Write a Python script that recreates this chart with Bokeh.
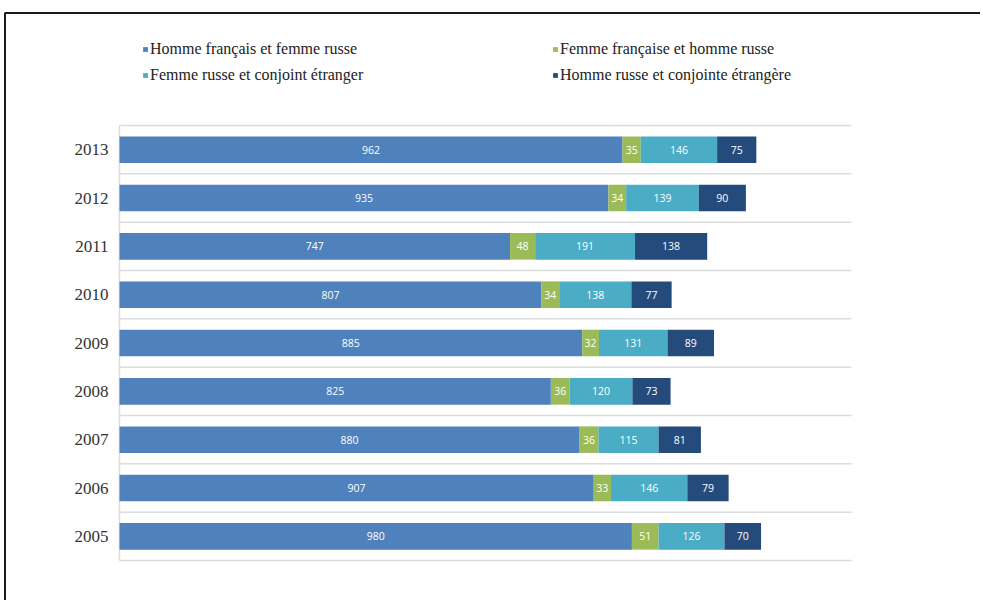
from bokeh.plotting import figure
from bokeh.models import ColumnDataSource, Legend, LegendItem
from bokeh.core.properties import value
from bokeh.embed import file_html
from bokeh.resources import INLINE

years = ["2005", "2006", "2007", "2008", "2009", "2010", "2011", "2012", "2013"]
homme_fr_femme_ru = [980, 907, 880, 825, 885, 807, 747, 935, 962]
femme_fr_homme_ru = [51, 33, 36, 36, 32, 34, 48, 34, 35]
femme_ru_conjoint_etr = [126, 146, 115, 120, 131, 138, 191, 139, 146]
homme_ru_conjointe_etr = [70, 79, 81, 73, 89, 77, 138, 90, 75]

series = [
    ("Homme français et femme russe", homme_fr_femme_ru, "#4F81BD"),
    ("Femme française et homme russe", femme_fr_homme_ru, "#9BBB59"),
    ("Femme russe et conjoint étranger", femme_ru_conjoint_etr, "#4BACC6"),
    ("Homme russe et conjointe étrangère", homme_ru_conjointe_etr, "#254A7C"),
]

# ---- layout constants (picture pixels) ----
W, H = 980, 600
PX0, PY0 = 0, 0
PLOT_L, PLOT_R = 119, 851
PLOT_T, PLOT_B = 125, 560
XMAX = 1400
n = len(years)
kx = (PLOT_R - PLOT_L) / XMAX
ky = (PLOT_B - PLOT_T) / n

def dx(px):
    return (px - PLOT_L) / kx

def dy(py):
    return (PLOT_B - py) / ky

p = figure(width=W, height=H,
           x_range=(dx(PX0), dx(PX0 + W)), y_range=(dy(PY0 + H), dy(PY0)),
           output_backend="svg", toolbar_location=None,
           x_axis_location=None, y_axis_location=None,
           min_border=0)
p.outline_line_color = None
p.grid.visible = False

# frame border of the picture
p.segment(x0=[dx(4), dx(4.5)], y0=[dy(12.5), dy(12.5)],
          x1=[dx(PX0 + W), dx(4.5)], y1=[dy(12.5), dy(PY0 + H)],
          line_color="#1a1a1a", line_width=2)

# separators and left axis line
bounds = list(range(n + 1))
p.segment(x0=[0] * len(bounds), x1=[XMAX] * len(bounds), y0=bounds, y1=bounds,
          line_color="#dcdcdc", line_width=1.5)
p.segment(x0=[0], x1=[0], y0=[0], y1=[n], line_color="#dcdcdc", line_width=1.5)

ypos = [i + 0.5 for i in range(n)]

# year labels
p.text(x=[dx(108)] * n, y=ypos, text=years, text_align="right", text_baseline="middle",
       text_font=value("Liberation Serif"), text_font_size="17px", text_color="#333333")

left = [0] * n
renderers = []
for name, vals, color in series:
    right = [l + v for l, v in zip(left, vals)]
    src = ColumnDataSource(dict(y=ypos, left=left, right=right,
                                mid=[(l + r) / 2 for l, r in zip(left, right)],
                                lab=[str(v) for v in vals]))
    r = p.hbar(y="y", left="left", right="right", height=0.55, source=src,
               fill_color=color, line_color=None)
    p.text(x="mid", y="y", text="lab", source=src, text_align="center",
           text_baseline="middle", text_color="white", text_font=value("Open Sans"),
           text_font_size="10.5px")
    renderers.append(r)
    left = right

def make_legend(items, x_page):
    return Legend(items=[LegendItem(label=nm, renderers=[r]) for nm, r in items],
                  location=(x_page - PX0, PY0 + H - 84), orientation="vertical",
                  border_line_color=None, background_fill_alpha=0,
                  padding=0, margin=0, spacing=8,
                  glyph_width=6, glyph_height=6, label_standoff=2,
                  label_height=16, label_text_font="Liberation Serif",
                  label_text_font_size="16px", label_text_color="#222222")

p.add_layout(make_legend([(series[0][0], renderers[0]), (series[2][0], renderers[2])], 142), "center")
p.add_layout(make_legend([(series[1][0], renderers[1]), (series[3][0], renderers[3])], 552), "center")

open("out.html", "w").write(file_html(p, INLINE))
